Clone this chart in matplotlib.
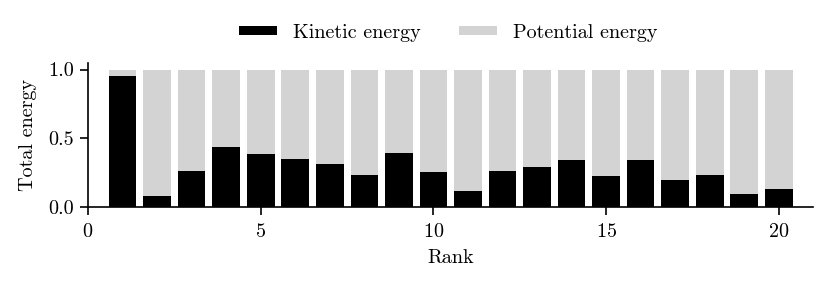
import matplotlib
matplotlib.use("Agg")
import matplotlib.pyplot as plt
import numpy as np

# Energy share per rank (kinetic + potential = 1)
ranks = np.arange(1, 21)
kinetic = [0.956, 0.082, 0.263, 0.436, 0.389, 0.353, 0.316, 0.231, 0.392, 0.256,
           0.117, 0.261, 0.290, 0.339, 0.224, 0.344, 0.200, 0.234, 0.098, 0.132]
potential = [1 - k for k in kinetic]

plt.rcParams['font.family'] = 'cmr10'
plt.rcParams['axes.formatter.use_mathtext'] = True
plt.rcParams['mathtext.fontset'] = 'cm'
plt.rcParams['font.size'] = 14.5

fig = plt.figure(figsize=(8.3, 2.86), dpi=100)
ax = fig.add_axes([0.106, 0.276, 0.874, 0.505])

ax.bar(ranks, kinetic, width=0.8, color='black', label='Kinetic energy')
ax.bar(ranks, potential, width=0.8, bottom=kinetic, color='lightgray', label='Potential energy')

ax.set_xlim(0, 21)
ax.set_ylim(0, 1.05)
ax.set_xticks([0, 5, 10, 15, 20])
ax.set_yticks([0.0, 0.5, 1.0])
ax.set_yticklabels(['0.0', '0.5', '1.0'])
ax.spines['top'].set_visible(False)
ax.spines['right'].set_visible(False)
ax.spines['left'].set_linewidth(1.2)
ax.spines['bottom'].set_linewidth(1.2)
ax.tick_params(width=1.2, length=5.5)
ax.tick_params(axis='x', pad=6)
ax.tick_params(axis='y', pad=4.5)

ax.set_xlabel('Rank', labelpad=6)
ax.set_ylabel('Total energy', labelpad=8)

fig.legend(loc='center', bbox_to_anchor=(0.54, 0.885), ncol=2, frameon=False,
           handlelength=1.9, handleheight=0.35, columnspacing=1.9)

fig.savefig('out.png', dpi=100)
